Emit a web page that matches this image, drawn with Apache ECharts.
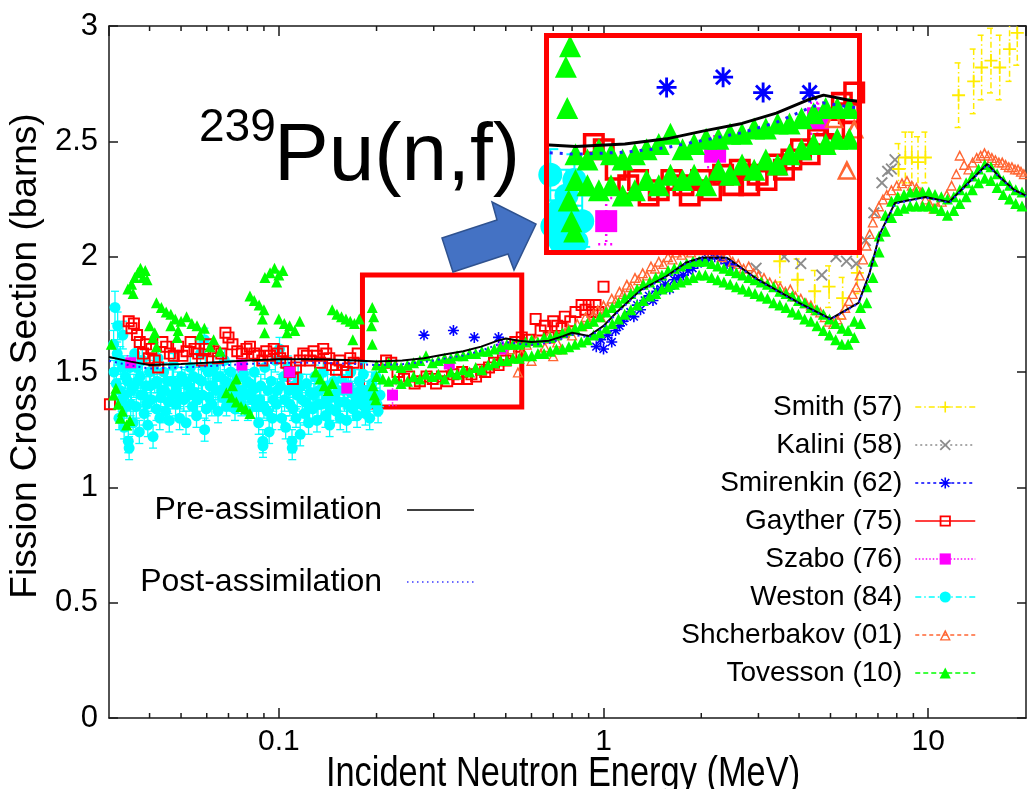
<!DOCTYPE html>
<html>
<head>
<meta charset="utf-8">
<script src="https://cdn.jsdelivr.net/npm/echarts@6.0.0/dist/echarts.min.js"></script>
<style>
html, body { margin: 0; padding: 0; background: #ffffff; }
#chart { width: 1027px; height: 789px; }
</style>
</head>
<body>
<div id="chart"></div>
<script>
// ---------- Evaluated cross sections (MeV, barns) ----------
const curveEnergy = [0.03,0.035,0.04,0.05,0.06,0.08,0.1,0.13,0.16,0.2,0.24,0.28,0.32,0.37,0.42,0.47,0.5,0.55,0.6,0.68,0.75,0.8,0.9,1.0,1.1,1.3,1.55,1.8,2.0,2.4,3.0,4.0,5.0,6.1,6.6,7.1,7.9,9.8,11.6,12.9,15.2,16.6,18.4,20];
const preSigma = [1.565,1.545,1.530,1.535,1.540,1.550,1.555,1.555,1.552,1.545,1.550,1.560,1.575,1.590,1.610,1.635,1.645,1.635,1.630,1.636,1.655,1.670,1.656,1.700,1.760,1.855,1.912,1.975,1.995,1.995,1.899,1.800,1.730,1.800,1.930,2.100,2.233,2.259,2.237,2.302,2.402,2.345,2.289,2.265];
const postSigma = [1.548,1.528,1.515,1.520,1.525,1.535,1.540,1.540,1.537,1.530,1.534,1.543,1.557,1.572,1.592,1.618,1.630,1.622,1.618,1.626,1.646,1.662,1.650,1.694,1.755,1.851,1.909,1.972,1.992,1.992,1.896,1.797,1.727,1.797,1.927,2.097,2.230,2.256,2.234,2.299,2.399,2.342,2.286,2.262];

// ---------- Measurements ----------
// Smith (57): [E, sigma, error]
const smith = [[3.49,1.98,0.09],[3.96,1.90,0.09],[4.47,1.85,0.09],[4.95,1.87,0.09],[5.45,1.82,0.09],[6.05,1.93,0.09],
  [8.1,2.38,0.11],[8.5,2.43,0.11],[8.9,2.43,0.11],[9.3,2.41,0.11],[9.8,2.43,0.11],
  [12.4,2.70,0.14],[13.8,2.76,0.14],[14.6,2.82,0.14],[15.6,2.85,0.14],[16.6,2.82,0.14],[17.8,2.90,0.14],[18.8,2.97,0.14]];
// Kalini (58): [E, sigma]
const kalini = [[2.95,1.95],[3.6,2.00],[4.05,1.97],[4.7,1.92],[5.2,2.00],[5.6,1.98],[6.0,1.97],[6.4,2.07],[6.8,2.19],[7.2,2.32],[7.5,2.37],[7.7,2.38],[7.9,2.42]];
// Smirenkin (62)
const smirenkin = [[0.28,1.66],[0.345,1.68],[0.40,1.65],[0.475,1.65],
  [0.95,1.61],[0.98,1.64],[1.00,1.60],[1.03,1.66],[1.06,1.63],[1.09,1.68],[1.12,1.70],[1.15,1.72],[1.18,1.74],[1.21,1.76],[1.24,1.74],[1.27,1.79],[1.30,1.77],[1.34,1.81],[1.38,1.83],[1.42,1.81],[1.46,1.85],[1.50,1.86],[1.55,1.88],[1.60,1.86],[1.65,1.90],[1.70,1.91],[1.76,1.92],[1.82,1.94],[1.88,1.95],[1.95,1.97],[2.02,1.98],[2.10,1.99],[2.20,2.00],[2.30,1.99],[2.40,1.97],[2.50,1.96]];
// Gayther (75)
const gayther = [[0.0302,1.36],[0.0345,1.72],[0.0352,1.69],[0.0358,1.71],[0.0366,1.66],[0.0373,1.63],[0.0382,1.58],[0.039,1.62],[0.0398,1.56],[0.0405,1.60],[0.0415,1.55],[0.0425,1.52],[0.0438,1.63],[0.045,1.61],[0.0462,1.58],[0.0475,1.57],[0.049,1.61],[0.0505,1.57],[0.052,1.59],[0.0535,1.63],[0.055,1.60],[0.0565,1.58],[0.058,1.55],[0.0595,1.60],[0.061,1.62],[0.063,1.59],[0.065,1.56],[0.0665,1.58],[0.0685,1.67],[0.070,1.65],[0.072,1.62],[0.0745,1.59],[0.077,1.58],[0.0795,1.60],[0.0815,1.61],[0.084,1.58],[0.0865,1.57],[0.089,1.55],[0.0915,1.59],[0.094,1.57],[0.0965,1.60],[0.099,1.58],[0.101,1.56],[0.103,1.59],[0.1055,1.54],[0.108,1.50],[0.1105,1.47],[0.113,1.52],[0.116,1.55],[0.119,1.58],[0.122,1.57],[0.125,1.55],[0.128,1.59],[0.131,1.57],[0.134,1.54],[0.137,1.60],[0.140,1.58],[0.143,1.56],[0.146,1.53],[0.150,1.51],[0.154,1.55],[0.158,1.53],[0.162,1.50],[0.166,1.56],[0.170,1.54],[0.175,1.58],
  [0.214,1.55],[0.222,1.54],[0.232,1.50],[0.243,1.47],[0.252,1.48],[0.262,1.45],[0.272,1.46],[0.285,1.48],[0.298,1.47],[0.305,1.45],[0.318,1.48],[0.33,1.46],[0.345,1.49],[0.358,1.47],[0.367,1.50],[0.38,1.47],[0.392,1.49],[0.405,1.48],[0.42,1.51],[0.432,1.50],[0.444,1.52],[0.46,1.54],[0.475,1.53],[0.49,1.56],[0.50,1.55],[0.52,1.58],[0.535,1.63],[0.549,1.61],[0.56,1.65],[0.59,1.64],[0.618,1.73],[0.64,1.68],[0.66,1.70],[0.678,1.65],[0.70,1.72],[0.72,1.70],[0.743,1.69],[0.76,1.74],[0.79,1.72],[0.82,1.76],[0.856,1.79],[0.88,1.77],[0.90,1.79],[0.925,1.76],[0.945,1.79],[0.965,1.76],[1.0,1.87]];
// Szabo (76): [E, sigma, error]
const szabo = [[0.035,1.54,0.03],[0.077,1.53,0.03],[0.108,1.50,0.04],[0.162,1.43,0.03],[0.224,1.40,0.045],[0.335,1.535,0.03],[0.49,1.60,0.03]];
// Weston (84): [E, sigma, error]
const weston = [
  [0.0310,1.62,0.06],[0.0311,1.50,0.05],[0.0313,1.78,0.07],[0.0316,1.45,0.06],[0.0318,1.58,0.05],[0.0319,1.70,0.06],[0.0322,1.30,0.05],[0.0324,1.42,0.05],[0.0325,1.55,0.06],[0.0328,1.38,0.05],[0.0330,1.52,0.05],[0.0331,1.66,0.06],[0.0334,1.26,0.05],[0.0336,1.40,0.05],[0.0337,1.48,0.05],[0.0340,1.35,0.05],[0.0342,1.46,0.05],
  [0.0344,1.20,0.05],[0.0346,1.17,0.05],[0.0348,1.52,0.05],[0.0350,1.36,0.05],[0.0352,1.42,0.04],[0.0356,1.28,0.05],[0.0358,1.44,0.05],[0.0360,1.58,0.06],[0.0364,1.35,0.05],[0.0366,1.52,0.05],[0.0368,1.46,0.04],[0.0372,1.24,0.05],[0.0374,1.48,0.05],[0.0376,1.40,0.05],[0.0380,1.55,0.05],[0.0382,1.40,0.05],[0.0385,1.32,0.05],[0.0390,1.44,0.04],[0.0392,1.36,0.05],[0.0395,1.27,0.05],[0.0400,1.50,0.05],[0.0402,1.44,0.05],[0.0405,1.38,0.05],[0.0410,1.22,0.05],[0.0412,1.52,0.05],[0.0415,1.45,0.04],[0.0420,1.34,0.05],[0.0422,1.46,0.05],[0.0425,1.56,0.05],[0.0430,1.30,0.05],[0.0433,1.39,0.05],
  [0.0436,1.42,0.05],[0.0442,1.50,0.04],[0.0445,1.42,0.05],[0.0448,1.33,0.05],[0.0454,1.46,0.05],[0.0457,1.37,0.05],[0.0460,1.29,0.05],[0.0467,1.40,0.04],[0.0470,1.46,0.05],[0.0474,1.53,0.05],[0.0481,1.36,0.05],[0.0484,1.42,0.05],[0.0488,1.45,0.05],[0.0495,1.30,0.05],[0.0498,1.39,0.05],[0.0502,1.48,0.04],[0.0510,1.38,0.05],[0.0514,1.46,0.05],[0.0518,1.28,0.05],[0.0526,1.44,0.05],[0.0530,1.40,0.05],[0.0534,1.52,0.05],[0.0542,1.35,0.04],[0.0546,1.48,0.05],[0.0550,1.41,0.05],[0.0558,1.31,0.05],[0.0562,1.38,0.05],[0.0566,1.47,0.05],
  [0.0574,1.58,0.05],[0.0578,1.46,0.05],[0.0582,1.40,0.05],[0.0590,1.64,0.05],[0.0591,1.25,0.05],[0.0594,1.52,0.05],[0.0598,1.34,0.05],[0.0606,1.50,0.04],[0.0610,1.39,0.05],[0.0614,1.44,0.05],
  [0.0622,1.36,0.05],[0.0626,1.44,0.05],[0.0631,1.52,0.05],[0.0640,1.42,0.04],[0.0645,1.48,0.05],[0.0650,1.33,0.05],[0.0660,1.48,0.05],[0.0665,1.42,0.05],[0.0670,1.39,0.05],[0.0680,1.55,0.05],[0.0685,1.46,0.05],[0.0690,1.35,0.04],[0.0700,1.45,0.05],[0.0705,1.40,0.05],[0.0711,1.50,0.05],[0.0722,1.38,0.05],[0.0728,1.44,0.05],[0.0733,1.34,0.05],[0.0744,1.47,0.04],[0.0750,1.37,0.05],[0.0755,1.41,0.05],
  [0.0767,1.36,0.05],[0.0773,1.42,0.05],[0.0779,1.49,0.05],[0.0791,1.40,0.05],[0.0797,1.46,0.05],[0.0803,1.33,0.04],[0.0815,1.45,0.05],[0.0822,1.41,0.05],[0.0828,1.38,0.05],[0.0841,1.50,0.05],[0.0848,1.43,0.05],[0.0854,1.35,0.05],
  [0.0867,1.28,0.05],[0.0873,1.38,0.05],[0.0880,1.44,0.05],[0.0893,1.20,0.05],[0.0894,1.18,0.05],[0.0900,1.35,0.05],[0.0906,1.52,0.05],[0.0920,1.33,0.04],[0.0927,1.42,0.05],[0.0934,1.24,0.05],[0.0948,1.46,0.05],[0.0955,1.30,0.05],[0.0962,1.38,0.05],
  [0.0976,1.55,0.05],[0.0983,1.36,0.05],[0.0990,1.42,0.05],[0.1005,1.60,0.05],[0.1012,1.44,0.05],[0.1020,1.30,0.05],[0.1035,1.48,0.04],[0.1042,1.38,0.05],[0.1050,1.26,0.05],[0.1066,1.52,0.05],[0.1074,1.42,0.05],
  [0.1082,1.36,0.05],[0.1098,1.20,0.05],[0.1100,1.17,0.05],[0.1106,1.34,0.05],[0.1114,1.44,0.05],[0.1130,1.30,0.04],[0.1139,1.40,0.05],[0.1147,1.48,0.05],[0.1164,1.23,0.05],[0.1173,1.44,0.05],[0.1181,1.38,0.05],[0.1199,1.32,0.05],[0.1208,1.37,0.05],[0.1217,1.45,0.04],[0.1235,1.28,0.05],[0.1244,1.35,0.05],
  [0.1254,1.41,0.05],[0.1273,1.34,0.05],[0.1282,1.40,0.05],[0.1292,1.48,0.05],[0.1311,1.29,0.05],[0.1321,1.36,0.05],[0.1331,1.42,0.04],[0.1351,1.36,0.05],[0.1361,1.43,0.05],[0.1371,1.50,0.05],[0.1392,1.31,0.05],[0.1402,1.38,0.05],[0.1413,1.44,0.05],[0.1434,1.27,0.05],[0.1445,1.34,0.05],[0.1456,1.39,0.04],[0.1478,1.46,0.05],[0.1489,1.40,0.05],[0.1500,1.33,0.05],[0.1523,1.42,0.05],[0.1534,1.37,0.05],
  [0.1546,1.30,0.05],[0.1569,1.47,0.05],[0.1580,1.42,0.05],[0.1593,1.37,0.04],[0.1617,1.29,0.05],[0.1629,1.36,0.05],[0.1641,1.44,0.05],[0.1666,1.50,0.05],[0.1678,1.41,0.05],[0.1691,1.34,0.05],[0.1716,1.40,0.04],[0.1729,1.38,0.05],[0.1742,1.31,0.05],
  [0.1768,1.46,0.05],[0.1782,1.42,0.05],[0.1795,1.36,0.05],[0.1822,1.49,0.05],[0.1836,1.39,0.05],[0.1849,1.32,0.05],[0.1877,1.42,0.04],[0.1891,1.36,0.05],[0.1905,1.30,0.05],[0.1934,1.45,0.05],[0.1948,1.41,0.05],[0.1963,1.38,0.05],[0.1992,1.48,0.05],[0.2007,1.36,0.05],[0.2022,1.33,0.05],[0.2050,1.40,0.05]];
// Shcherbakov (01)
const shcherbakov = [[0.52,1.60],[0.545,1.50],[0.56,1.58],[0.58,1.62],[0.60,1.55],[0.62,1.64],[0.64,1.58],[0.66,1.61],[0.68,1.66],[0.70,1.57],[0.72,1.63],[0.74,1.60],[0.76,1.67],
  [0.78,1.69],[0.80,1.66],[0.83,1.71],[0.86,1.70],[0.88,1.74],[0.90,1.72],[0.93,1.75],[0.96,1.77],[0.98,1.74],[1.00,1.79],[1.03,1.78],[1.06,1.82],[1.09,1.81],[1.12,1.85],[1.15,1.84],[1.18,1.88],[1.21,1.87],[1.25,1.91],[1.28,1.90],[1.32,1.93],[1.36,1.92],[1.40,1.96],[1.44,1.95],[1.48,1.98],[1.53,1.97],[1.58,2.00],[1.63,1.99],[1.68,2.02],[1.74,2.01],[1.80,2.03],[1.86,2.02],[1.93,2.04],[2.00,2.03],[2.07,2.04],[2.15,2.02],[2.23,2.03],[2.31,2.00],[2.40,2.01],[2.50,1.98],[2.60,1.97],[2.70,1.95],[2.80,1.96],[2.90,1.93],[3.00,1.92],[3.12,1.91],[3.25,1.89],[3.38,1.88],[3.50,1.87],[3.63,1.85],[3.76,1.86],[3.90,1.83],[4.05,1.82],[4.20,1.80],[4.35,1.79],[4.50,1.77],[4.65,1.76],[4.80,1.74],[4.95,1.72],[5.10,1.71],[5.25,1.73],[5.40,1.75],[5.55,1.78],[5.70,1.81],[5.85,1.84],[6.00,1.87],[6.15,1.92],[6.30,1.99],[6.45,2.05],[6.60,2.10],[6.75,2.15],[6.90,2.19],[7.05,2.22],[7.25,2.25],[7.45,2.27],[7.70,2.29],[8.00,2.31],[8.30,2.32],[8.60,2.33],[8.90,2.31],[9.20,2.30],[9.50,2.28],[9.80,2.25],[10.1,2.23],[10.4,2.21],[10.7,2.22],[11.0,2.24],[11.4,2.27],[11.8,2.31],[12.2,2.36],[12.5,2.44],[12.9,2.40],[13.3,2.38],[13.7,2.41],[14.1,2.43],[14.5,2.44],[14.9,2.45],[15.3,2.44],[15.7,2.43],[16.1,2.42],[16.5,2.41],[16.9,2.41],[17.3,2.40],[17.7,2.39],[18.1,2.39],[18.5,2.38],[18.9,2.38],[19.3,2.37],[19.7,2.36]];
// Tovesson (10), below 0.2 MeV
const tovessonLow = [[0.0305,1.62],[0.031,1.40],[0.0315,1.43],[0.032,1.36],[0.0325,1.30],[0.033,1.33],[0.034,1.27],[0.0348,1.29],
  [0.0343,1.86],[0.0352,1.88],[0.0356,1.84],[0.036,1.91],[0.0368,1.93],[0.0375,1.95],[0.0382,1.91],[0.0388,1.94],[0.0393,1.90],
  [0.040,1.70],[0.041,1.65],[0.0415,1.67],[0.042,1.61],
  [0.042,1.80],[0.0435,1.78],[0.045,1.76],[0.0465,1.75],[0.048,1.73],[0.050,1.72],[0.0465,1.70],[0.049,1.68],
  [0.0486,1.65],[0.052,1.74],[0.054,1.71],[0.056,1.70],[0.0572,1.66],[0.059,1.69],[0.0614,1.61],[0.063,1.64],[0.066,1.59],
  [0.069,1.41],[0.072,1.44],[0.0715,1.39],[0.074,1.47],[0.074,1.37],[0.0765,1.35],[0.079,1.34],[0.0815,1.32],
  [0.0815,1.83],[0.084,1.81],[0.087,1.79],[0.090,1.77],[0.089,1.73],[0.0904,1.67],
  [0.0906,1.91],[0.094,1.93],[0.097,1.95],[0.0985,1.89],[0.100,1.92],[0.103,1.94],
  [0.100,1.73],[0.104,1.71],[0.106,1.67],[0.108,1.70],[0.112,1.68],[0.116,1.72],
  [0.130,1.50],[0.134,1.47],[0.138,1.44],[0.142,1.42],[0.146,1.45],
  [0.146,1.77],[0.151,1.75],[0.156,1.74],[0.161,1.73],[0.166,1.72],[0.169,1.64],[0.171,1.71],[0.177,1.73],
  [0.193,1.70],[0.194,1.78],[0.194,1.62],[0.196,1.74],[0.195,1.44],[0.197,1.40],[0.199,1.38]];
// Tovesson (10), 0.2 MeV and above
const tovessonBand = [[0.200,1.53],[0.200,1.48],[0.209,1.52],[0.209,1.47],[0.218,1.54],[0.218,1.46],[0.228,1.53],[0.228,1.47],[0.238,1.52],[0.238,1.45],[0.249,1.53],[0.249,1.46],[0.260,1.54],[0.260,1.48],[0.272,1.55],[0.272,1.47],[0.284,1.57],[0.284,1.49],[0.297,1.54],[0.297,1.48],[0.310,1.55],[0.310,1.49],[0.324,1.56],[0.324,1.47],[0.339,1.56],[0.339,1.50],[0.354,1.57],[0.354,1.49],[0.370,1.57],[0.370,1.51],[0.387,1.58],[0.387,1.50],[0.404,1.58],[0.404,1.52],[0.422,1.59],[0.422,1.51],[0.441,1.59],[0.441,1.53],[0.461,1.60],[0.461,1.54],[0.482,1.61],[0.482,1.55],[0.504,1.62],[0.504,1.55],[0.526,1.62],[0.526,1.56],[0.550,1.62],[0.550,1.56],[0.575,1.63],[0.575,1.57],[0.601,1.64],[0.601,1.57],[0.628,1.63],[0.628,1.58],[0.656,1.65],[0.656,1.58],[0.685,1.65],[0.685,1.59],[0.716,1.66],[0.716,1.60],[0.748,1.67],[0.748,1.60],[0.782,1.68],[0.782,1.61],[0.817,1.69],[0.817,1.62],[0.854,1.70],[0.854,1.63],[0.892,1.71],[0.892,1.64],[0.932,1.72],[0.932,1.66],[0.974,1.74],[0.974,1.67],[1.018,1.76],[1.018,1.69],[1.064,1.78],[1.064,1.71],[1.112,1.80],[1.112,1.73],[1.162,1.82],[1.162,1.75],[1.214,1.84],[1.214,1.77],[1.269,1.86],[1.269,1.79],[1.326,1.88],[1.326,1.81],[1.386,1.89],[1.386,1.83],[1.448,1.91],[1.448,1.84],[1.513,1.92],[1.513,1.86],[1.581,1.94],[1.581,1.87],[1.652,1.95],[1.652,1.88],[1.727,1.96],[1.727,1.89],[1.804,1.97],[1.804,1.90],[1.886,1.98],[1.886,1.91],[1.970,1.98],[1.970,1.92],[2.059,1.98],[2.059,1.92],[2.152,1.97],[2.152,1.91],[2.248,1.96],[2.248,1.90],[2.349,1.95],[2.349,1.89],[2.455,1.94],[2.455,1.88],[2.566,1.93],[2.566,1.87],[2.681,1.92],[2.681,1.86],[2.802,1.91],[2.802,1.85],[2.928,1.90],[2.928,1.84],[3.059,1.89],[3.059,1.83],[3.197,1.88],[3.197,1.82],[3.341,1.87],[3.341,1.80],[3.491,1.85],[3.491,1.79],[3.648,1.84],[3.648,1.78],[3.812,1.83],[3.812,1.76],[3.984,1.81],[3.984,1.75],[4.163,1.80],[4.163,1.73],[4.350,1.78],[4.350,1.72],[4.546,1.77],[4.546,1.70],[4.751,1.75],[4.751,1.68],[4.965,1.73],[4.965,1.66],[5.188,1.71],[5.188,1.64],[5.421,1.69],[5.421,1.62],[5.665,1.68],[5.665,1.62],[5.920,1.72],[5.920,1.65],[6.187,1.78],[6.187,1.71],[6.465,1.87],[6.465,1.80],[6.756,1.98],[6.756,1.91],[7.060,2.09],[7.060,2.02],[7.378,2.18],[7.378,2.11],[7.710,2.24],[7.710,2.17],[8.057,2.26],[8.057,2.20],[8.420,2.27],[8.420,2.21],[8.799,2.28],[8.799,2.22],[9.195,2.28],[9.195,2.22],[9.608,2.28],[9.608,2.22],[10.04,2.28],[10.04,2.22],[10.49,2.27],[10.49,2.21],[10.97,2.26],[10.97,2.20],[11.46,2.25],[11.46,2.18],[11.98,2.26],[11.98,2.20],[12.51,2.29],[12.51,2.23],[13.08,2.32],[13.08,2.26],[13.67,2.35],[13.67,2.29],[14.28,2.38],[14.28,2.32],[14.93,2.40],[14.93,2.34],[15.60,2.39],[15.60,2.33],[16.30,2.36],[16.30,2.30],[17.03,2.33],[17.03,2.27],[17.80,2.31],[17.80,2.25],[18.60,2.29],[18.60,2.23],[19.44,2.28],[19.44,2.22]];

// ---------- Axes ----------
const energyRange = [0.03, 20];
const sigmaRange = [0, 3];
const sigmaStep = 0.5;
const energyMinorTicks = [0.04,0.05,0.06,0.07,0.08,0.09,0.2,0.3,0.4,0.5,0.6,0.7,0.8,0.9,2,3,4,5,6,7,8,9];
// region enlarged in the inset
const zoomEnergy = [0.18, 0.57];
const zoomSigma = [1.34, 1.76];
const zoomBoxEnergy = [0.181, 0.56];
const zoomBoxSigma = [1.348, 1.92];

const FONT = '"Liberation Sans", Arial, Helvetica, sans-serif';
const AXIS_COLOR = '#1a1a1a';

// filled glyphs for the stroke-like markers
const SYM_PLUS = 'path://M-1,-7H1V-1H7V1H1V7H-1V1H-7V-1H-1Z';
const SYM_CROSS = 'path://M-6.3,-4.9L-4.9,-6.3L0,-1.4L4.9,-6.3L6.3,-4.9L1.4,0L6.3,4.9L4.9,6.3L0,1.4L-4.9,6.3L-6.3,4.9L-1.4,0Z';
const SYM_STAR = 'path://M-1,-7H1V-1H7V1H1V7H-1V1H-7V-1H-1Z M-5.7,-4.3L-4.3,-5.7L5.7,4.3L4.3,5.7Z M4.3,-5.7L5.7,-4.3L-4.3,5.7L-5.7,4.3Z';
const SYM_OPEN_SQUARE = 'path://M0,0H10V10H0Z M1.6,1.6V8.4H8.4V1.6Z';
const SYM_OPEN_TRIANGLE = 'path://M5,0L10,9L0,9Z M5,2.9L1.9,7.9L8.1,7.9Z';

const C = {
  smith: '#ffec00', kalini: '#8c8c8c', smirenkin: '#0000ff', gayther: '#ff0000',
  szabo: '#ff00ff', weston: '#00ffff', shcherbakov: '#ff6633', tovesson: '#00ff00'
};

const xy = d => d.map(p => [p[0], p[1]]);

function markers(name, data, symbol, size, color, grid, z) {
  return {
    type: 'line', name: name, data: data,
    xAxisIndex: grid === 0 ? 0 : 2, yAxisIndex: grid === 0 ? 0 : 2,
    symbol: symbol, symbolSize: size, showSymbol: true, showAllSymbol: true,
    itemStyle: { color: color, opacity: 1 },
    lineStyle: { opacity: 0 },
    z: z, silent: true, animation: false, clip: true,
    emphasis: { disabled: true }
  };
}

function errorBars(data, color, dash, capHalf, width, grid, z) {
  return {
    type: 'custom', data: data,
    xAxisIndex: grid === 0 ? 0 : 2, yAxisIndex: grid === 0 ? 0 : 2,
    encode: { x: 0, y: 1 }, z: z, silent: true, animation: false, clip: true,
    renderItem: function (params, api) {
      const e = api.value(0), s = api.value(1), d = api.value(2);
      const hi = api.coord([e, s + d]);
      const lo = api.coord([e, s - d]);
      const style = { stroke: color, lineWidth: width, lineDash: dash, fill: null };
      return {
        type: 'group',
        children: [
          { type: 'line', shape: { x1: hi[0], y1: hi[1], x2: lo[0], y2: lo[1] }, style: style },
          { type: 'line', shape: { x1: hi[0] - capHalf, y1: hi[1], x2: hi[0] + capHalf, y2: hi[1] }, style: style },
          { type: 'line', shape: { x1: lo[0] - capHalf, y1: lo[1], x2: lo[0] + capHalf, y2: lo[1] }, style: style }
        ]
      };
    }
  };
}

function curve(name, sigma, color, width, dash, grid, z, extra) {
  const s = {
    type: 'line', name: name,
    data: curveEnergy.map((e, i) => [e, sigma[i]]),
    xAxisIndex: grid === 0 ? 0 : 2, yAxisIndex: grid === 0 ? 0 : 2,
    symbol: 'none', showSymbol: false, smooth: false,
    itemStyle: { color: color },
    lineStyle: { color: color, width: width, type: dash },
    z: z, silent: true, animation: false, clip: true,
    emphasis: { disabled: true }
  };
  return Object.assign(s, extra || {});
}

const minorTickSeries = {
  type: 'custom', xAxisIndex: 0, yAxisIndex: 0, z: 3, silent: true, animation: false,
  data: energyMinorTicks.map(v => [v, 0]),
  encode: { x: 0, y: 1 },
  renderItem: function (params, api) {
    const x = api.coord([api.value(0), 1])[0];
    const cs = params.coordSys;
    const st = { stroke: AXIS_COLOR, lineWidth: 1.5 };
    return {
      type: 'group',
      children: [
        { type: 'line', shape: { x1: x, y1: cs.y + cs.height, x2: x, y2: cs.y + cs.height - 5 }, style: st },
        { type: 'line', shape: { x1: x, y1: cs.y, x2: x, y2: cs.y + 5 }, style: st }
      ]
    };
  }
};

const mainSeries = [
  errorBars(weston, C.weston, null, 4, 1.3, 0, 2),
  errorBars(szabo, C.szabo, [1.5, 2], 4, 1.5, 0, 2),
  errorBars(smith, C.smith, [6, 3, 1.5, 3], 4, 1.5, 0, 2),
  markers('Weston (84)', xy(weston), 'circle', 11, C.weston, 0, 2),
  markers('Gayther (75)', gayther, SYM_OPEN_SQUARE, 12, C.gayther, 0, 2),
  markers('Szabo (76)', xy(szabo), 'rect', 11, C.szabo, 0, 2),
  markers('Smirenkin (62)', smirenkin, SYM_STAR, 11, C.smirenkin, 0, 2),
  markers('Kalini (58)', kalini, SYM_CROSS, 12, C.kalini, 0, 2),
  markers('Smith (57)', xy(smith), SYM_PLUS, 13, C.smith, 0, 2),
  markers('Shcherbakov (01)', shcherbakov, SYM_OPEN_TRIANGLE, 11, C.shcherbakov, 0, 2),
  markers('Tovesson (10)', tovessonLow.concat(tovessonBand), 'triangle', 11, C.tovesson, 0, 2),
  curve('Pre-assimilation', preSigma, '#000000', 2, 'solid', 0, 3, {
    markArea: {
      silent: true, label: { show: false },
      itemStyle: { color: 'rgba(0,0,0,0)', borderColor: '#ff0000', borderWidth: 5 },
      data: [[{ coord: [zoomBoxEnergy[0], zoomBoxSigma[0]] }, { coord: [zoomBoxEnergy[1], zoomBoxSigma[1]] }]]
    }
  }),
  curve('Post-assimilation', postSigma, '#2020ff', 2, [2, 4], 0, 3),
  minorTickSeries
];

const insetSeries = [
  errorBars(weston, C.weston, null, 8, 2, 1, 60),
  errorBars(szabo, C.szabo, [2, 4], 8, 2.5, 1, 60),
  markers('Weston (84)', xy(weston), 'circle', 24, C.weston, 1, 60),
  markers('Gayther (75)', gayther, SYM_OPEN_SQUARE, 22, C.gayther, 1, 60),
  markers('Szabo (76)', xy(szabo), 'rect', 22, C.szabo, 1, 60),
  markers('Smirenkin (62)', smirenkin, SYM_STAR, 20, C.smirenkin, 1, 60),
  markers('Shcherbakov (01)', shcherbakov, SYM_OPEN_TRIANGLE, 20, C.shcherbakov, 1, 60),
  markers('Tovesson (10)', tovessonLow.concat(tovessonBand), 'triangle', 22, C.tovesson, 1, 60),
  curve('Pre-assimilation', preSigma, '#000000', 3, 'solid', 1, 61),
  curve('Post-assimilation', postSigma, '#2020ff', 3, [3, 7], 1, 61)
];

const legendText = { fontFamily: FONT, color: '#000000' };

const option = {
  animation: false,
  backgroundColor: '#ffffff',
  textStyle: { fontFamily: FONT },
  grid: [
    { left: 109, right: 1, top: 26, bottom: 71, outerBoundsMode: 'none', containLabel: false },
    { left: 547, top: 36, width: 312, height: 216, outerBoundsMode: 'none', containLabel: false }
  ],
  xAxis: [
    {
      type: 'log', gridIndex: 0, min: energyRange[0], max: energyRange[1], logBase: 10, position: 'bottom',
      axisLine: { show: true, onZero: false, lineStyle: { color: AXIS_COLOR, width: 1.5 } },
      axisTick: { show: true, inside: true, length: 10, lineStyle: { color: AXIS_COLOR, width: 1.5 } },
      splitLine: { show: false }, minorTick: { show: false },
      axisLabel: {
        show: true, margin: 9, fontSize: 30, color: '#000', fontFamily: FONT,
        showMinLabel: false, showMaxLabel: false,
        formatter: function (v) {
          const lg = Math.log10(v);
          if (Math.abs(lg - Math.round(lg)) > 1e-6) return '';
          return String(Number(Math.pow(10, Math.round(lg)).toPrecision(1)));
        }
      }
    },
    {
      type: 'log', gridIndex: 0, min: energyRange[0], max: energyRange[1], logBase: 10, position: 'top',
      axisLine: { show: true, onZero: false, lineStyle: { color: AXIS_COLOR, width: 1.5 } },
      axisTick: { show: true, inside: true, length: 10, lineStyle: { color: AXIS_COLOR, width: 1.5 } },
      axisLabel: { show: false }, splitLine: { show: false }
    },
    {
      type: 'log', gridIndex: 1, min: zoomEnergy[0], max: zoomEnergy[1], logBase: 10, show: false
    }
  ],
  yAxis: [
    {
      type: 'value', gridIndex: 0, min: sigmaRange[0], max: sigmaRange[1], interval: sigmaStep, position: 'left',
      axisLine: { show: true, onZero: false, lineStyle: { color: AXIS_COLOR, width: 1.5 } },
      axisTick: { show: true, inside: true, length: 9, lineStyle: { color: AXIS_COLOR, width: 1.5 } },
      splitLine: { show: false },
      axisLabel: { show: true, margin: 11, fontSize: 31, color: '#000', fontFamily: FONT }
    },
    {
      type: 'value', gridIndex: 0, min: sigmaRange[0], max: sigmaRange[1], interval: sigmaStep, position: 'right',
      axisLine: { show: true, onZero: false, lineStyle: { color: AXIS_COLOR, width: 1.5 } },
      axisTick: { show: true, inside: true, length: 9, lineStyle: { color: AXIS_COLOR, width: 1.5 } },
      splitLine: { show: false }, axisLabel: { show: false }
    },
    {
      type: 'value', gridIndex: 1, min: zoomSigma[0], max: zoomSigma[1], show: false, splitLine: { show: false }
    }
  ],
  legend: [
    {
      orient: 'vertical', align: 'right', right: 552, top: 492, padding: 0,
      itemWidth: 67, itemHeight: 14, itemGap: 36, selectedMode: false,
      textStyle: Object.assign({ fontSize: 32, lineHeight: 36, padding: [0, 20, 0, 0] }, legendText),
      data: [
        { name: 'Pre-assimilation', itemStyle: { opacity: 0 }, lineStyle: { color: '#000000', width: 1.5, type: 'solid', opacity: 1 } },
        { name: 'Post-assimilation', itemStyle: { opacity: 0 }, lineStyle: { color: '#6b6bff', width: 2, type: [1.5, 3.5], opacity: 1 } }
      ]
    },
    {
      orient: 'vertical', align: 'right', right: 51, top: 388, padding: 0,
      itemWidth: 60, itemHeight: 14, itemGap: 0, selectedMode: false,
      textStyle: Object.assign({ fontSize: 28, lineHeight: 38, padding: [0, 8, 0, 0] }, legendText),
      data: [
        { name: 'Smith (57)', lineStyle: { color: C.smith, width: 1.5, type: [6, 3, 1.5, 3], opacity: 1 } },
        { name: 'Kalini (58)', lineStyle: { color: C.kalini, width: 1.5, type: [2, 3], opacity: 1 } },
        { name: 'Smirenkin (62)', lineStyle: { color: C.smirenkin, width: 1.5, type: [3, 3], opacity: 1 } },
        { name: 'Gayther (75)', lineStyle: { color: C.gayther, width: 1.5, type: 'solid', opacity: 1 } },
        { name: 'Szabo (76)', lineStyle: { color: C.szabo, width: 1.5, type: [1.5, 2], opacity: 1 } },
        { name: 'Weston (84)', lineStyle: { color: C.weston, width: 1.5, type: [6, 3, 1.5, 3], opacity: 1 } },
        { name: 'Shcherbakov (01)', lineStyle: { color: C.shcherbakov, width: 1.5, type: [4, 3], opacity: 1 } },
        { name: 'Tovesson (10)', lineStyle: { color: C.tovesson, width: 1.5, type: [5, 3], opacity: 1 } }
      ]
    }
  ],
  graphic: [
    // inset panel: white backing below its markers, red frame above them
    { type: 'rect', z: 50, silent: true, shape: { x: 546.5, y: 35.5, width: 313, height: 217 }, style: { fill: '#ffffff', stroke: null } },
    { type: 'rect', z: 70, silent: true, shape: { x: 546.5, y: 35.5, width: 313, height: 217 }, style: { fill: null, stroke: '#ff0000', lineWidth: 5 } },
    // block arrow pointing at the inset
    { type: 'polygon', z: 55, silent: true,
      shape: { points: [[442, 238], [497, 220], [492, 202], [536, 224], [514, 270], [508, 254], [453, 272]] },
      style: { fill: '#4472c4', stroke: '#2f528f', lineWidth: 1.5 } },
    // reaction label
    { type: 'text', z: 55, silent: true, x: 199, y: 128,
      style: { text: '239', font: '46px ' + FONT, fill: '#000', align: 'left', verticalAlign: 'middle', textAlign: 'left', textVerticalAlign: 'middle' } },
    { type: 'text', z: 55, silent: true, x: 274, y: 157,
      style: { text: 'Pu(n,f)', font: '82px ' + FONT, fill: '#000', align: 'left', verticalAlign: 'middle', textAlign: 'left', textVerticalAlign: 'middle' } },
    // axis titles
    { type: 'text', z: 5, silent: true, x: 26, y: 356, rotation: Math.PI / 2,
      style: { text: 'Fission Cross Section (barns)', font: '37px ' + FONT, fill: '#000', align: 'center', verticalAlign: 'middle', textAlign: 'center', textVerticalAlign: 'middle' } },
    { type: 'text', z: 5, silent: true, x: 563, y: 774, scaleX: 0.8,
      style: { text: 'Incident Neutron Energy (MeV)', font: '43px ' + FONT, fill: '#000', align: 'center', verticalAlign: 'middle', textAlign: 'center', textVerticalAlign: 'middle' } }
  ],
  series: mainSeries.concat(insetSeries)
};

const chart = echarts.init(document.getElementById('chart'), null, { renderer: 'canvas', width: 1027, height: 789 });
chart.setOption(option);
</script>
</body>
</html>
